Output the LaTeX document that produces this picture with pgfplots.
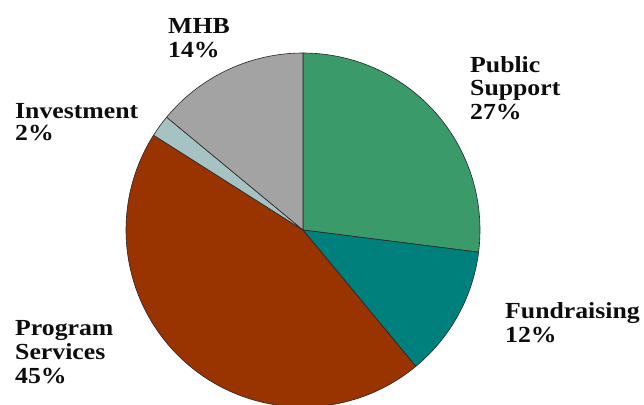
\documentclass[border=0pt]{standalone}
\usepackage{pgfplots}
\pgfplotsset{compat=1.18}
\usepackage{fontspec}
\setmainfont{Liberation Serif}[FakeStretch=1.12]
\definecolor{psgreen}{HTML}{3A9A6A}
\definecolor{fdteal}{HTML}{00807C}
\definecolor{pgbrown}{HTML}{993300}
\definecolor{invblue}{HTML}{A5C3C3}
\definecolor{mhbgray}{HTML}{A3A3A3}
% shares in percent (clockwise from 12 o'clock)
\def\vPS{27}\def\vFD{12}\def\vPG{45}\def\vIN{2}\def\vMH{14}
\begin{document}
\begin{tikzpicture}
\begin{axis}[x=1bp,y=1bp,xmin=0,xmax=644,ymin=0,ymax=405,hide axis,clip=false,
  anchor=origin,at={(0,0)}]
\pgfmathsetmacro\aA{90}
\pgfmathsetmacro\aB{\aA-3.6*\vPS}
\pgfmathsetmacro\aC{\aB-3.6*\vFD}
\pgfmathsetmacro\aD{\aC-3.6*\vPG}
\pgfmathsetmacro\aE{\aD-3.6*\vIN}
\pgfmathsetmacro\aF{\aE-3.6*\vMH}
\begin{scope}[draw=black!85,line width=0.6bp,line join=round]
\filldraw[fill=psgreen] (axis cs:303,175) -- ++(\aA:177bp) arc[start angle=\aA,end angle=\aB,radius=177bp] -- cycle;
\filldraw[fill=fdteal] (axis cs:303,175) -- ++(\aB:177bp) arc[start angle=\aB,end angle=\aC,radius=177bp] -- cycle;
\filldraw[fill=pgbrown] (axis cs:303,175) -- ++(\aC:177bp) arc[start angle=\aC,end angle=\aD,radius=177bp] -- cycle;
\filldraw[fill=invblue] (axis cs:303,175) -- ++(\aD:177bp) arc[start angle=\aD,end angle=\aE,radius=177bp] -- cycle;
\filldraw[fill=mhbgray] (axis cs:303,175) -- ++(\aE:177bp) arc[start angle=\aE,end angle=\aF,radius=177bp] -- cycle;
\end{scope}
\begin{scope}[every node/.style={anchor=base west,inner sep=0pt,font=\fontsize{23bp}{24bp}\selectfont\bfseries,text=black!95}]
\node at (axis cs:168,372) {MHB};
\node at (axis cs:168,348) {\vMH\%};
\node at (axis cs:15,287) {Investment};
\node at (axis cs:15,265) {\vIN\%};
\node at (axis cs:470,333) {Public};
\node at (axis cs:470,309.5) {Support};
\node at (axis cs:470,286) {\vPS\%};
\node at (axis cs:15,70) {Program};
\node at (axis cs:15,46) {Services};
\node at (axis cs:15,22) {\vPG\%};
\node at (axis cs:505,87) {Fundraising};
\node at (axis cs:505,63) {\vFD\%};
\end{scope}
\end{axis}
\pgfresetboundingbox
\path[use as bounding box] (0,0) rectangle (644bp,405bp);
\end{tikzpicture}
\end{document}
